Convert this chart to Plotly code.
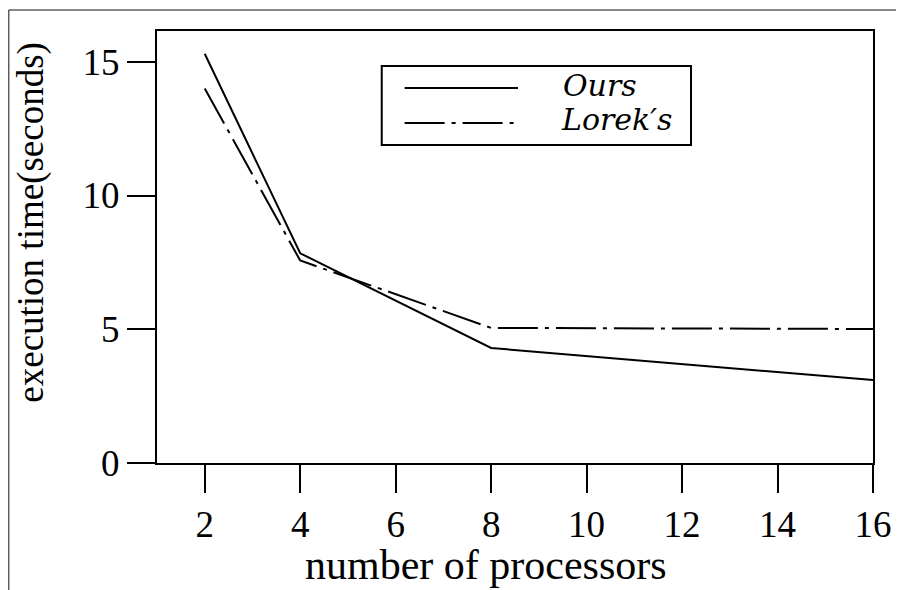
import plotly.graph_objects as go

processors = [2, 4, 8, 16]
ours = [15.3, 7.84, 4.30, 3.10]
loreks = [14.0, 7.57, 5.05, 5.01]
x_ticks = [2, 4, 6, 8, 10, 12, 14, 16]
y_ticks = [0, 5, 10, 15]
series_names = ["Ours", "Lorek′s"]

FONT = "Liberation Serif"
OFF = 8  # page body margin
W, H = 904 - OFF, 590 - OFF
L, R, T, B = 157 - OFF, 904 - 877, 31 - OFF, 590 - 463
pw, ph = W - L - R, H - T - B

def px(xs):  # screen x -> paper
    return (xs - OFF - L) / pw

def py(ys):  # screen y -> paper
    return (H - B - (ys - OFF)) / ph

DASH = "40px,7px,4px,7px"

fig = go.Figure()
fig.add_trace(go.Scatter(x=processors, y=ours, mode="lines", name=series_names[0],
                         line=dict(color="black", width=2), showlegend=False))
fig.add_trace(go.Scatter(x=processors, y=loreks, mode="lines", name=series_names[1],
                         line=dict(color="black", width=2, dash=DASH), showlegend=False))

axis_common = dict(showline=True, linecolor="black", linewidth=2, mirror=True,
                   ticks="outside", ticklen=28, tickwidth=2, tickcolor="black",
                   showgrid=False, zeroline=False,
                   tickfont=dict(family=FONT, size=37, color="black"))
fig.update_xaxes(range=[1, 16], tickvals=x_ticks, ticktext=[str(v) for v in x_ticks], **axis_common)
fig.update_yaxes(range=[0, 16.15], tickvals=y_ticks, ticktext=[str(v) for v in y_ticks], **axis_common)

shapes = [
    # outer frame
    dict(type="rect", xref="paper", yref="paper", x0=px(8), x1=px(930), y0=py(620), y1=py(10),
         line=dict(color="#111", width=1), fillcolor="rgba(0,0,0,0)", layer="below"),
    # legend box
    dict(type="rect", xref="paper", yref="paper", x0=px(383), x1=px(694), y0=py(145), y1=py(66),
         line=dict(color="black", width=2), fillcolor="white"),
    dict(type="line", xref="paper", yref="paper", x0=px(406), x1=px(520), y0=py(88), y1=py(88),
         line=dict(color="black", width=2)),
    dict(type="line", xref="paper", yref="paper", x0=px(406), x1=px(520), y0=py(123), y1=py(123),
         line=dict(color="black", width=2, dash=DASH)),
]

annotations = [
    dict(xref="paper", yref="paper", x=px(563), y=py(86), text="<i>" + series_names[0] + "</i>",
         showarrow=False, xanchor="left", yanchor="middle",
         font=dict(family="DejaVu Serif", size=30, color="black")),
    dict(xref="paper", yref="paper", x=px(561), y=py(120), text="<i>" + series_names[1] + "</i>",
         showarrow=False, xanchor="left", yanchor="middle",
         font=dict(family="DejaVu Serif", size=30, color="black")),
    dict(xref="paper", yref="paper", x=px(488), y=py(565), text="number of processors",
         showarrow=False, xanchor="center", yanchor="middle",
         font=dict(family=FONT, size=42, color="black")),
    dict(xref="paper", yref="paper", x=px(30), y=py(222), text="execution time(seconds)",
         showarrow=False, xanchor="center", yanchor="middle", textangle=-90,
         font=dict(family=FONT, size=37, color="black")),
]

fig.update_layout(width=W, height=H, margin=dict(l=L, r=R, t=T, b=B),
                  plot_bgcolor="white", paper_bgcolor="white",
                  shapes=shapes, annotations=annotations, showlegend=False)

fig.write_html("out.html")
